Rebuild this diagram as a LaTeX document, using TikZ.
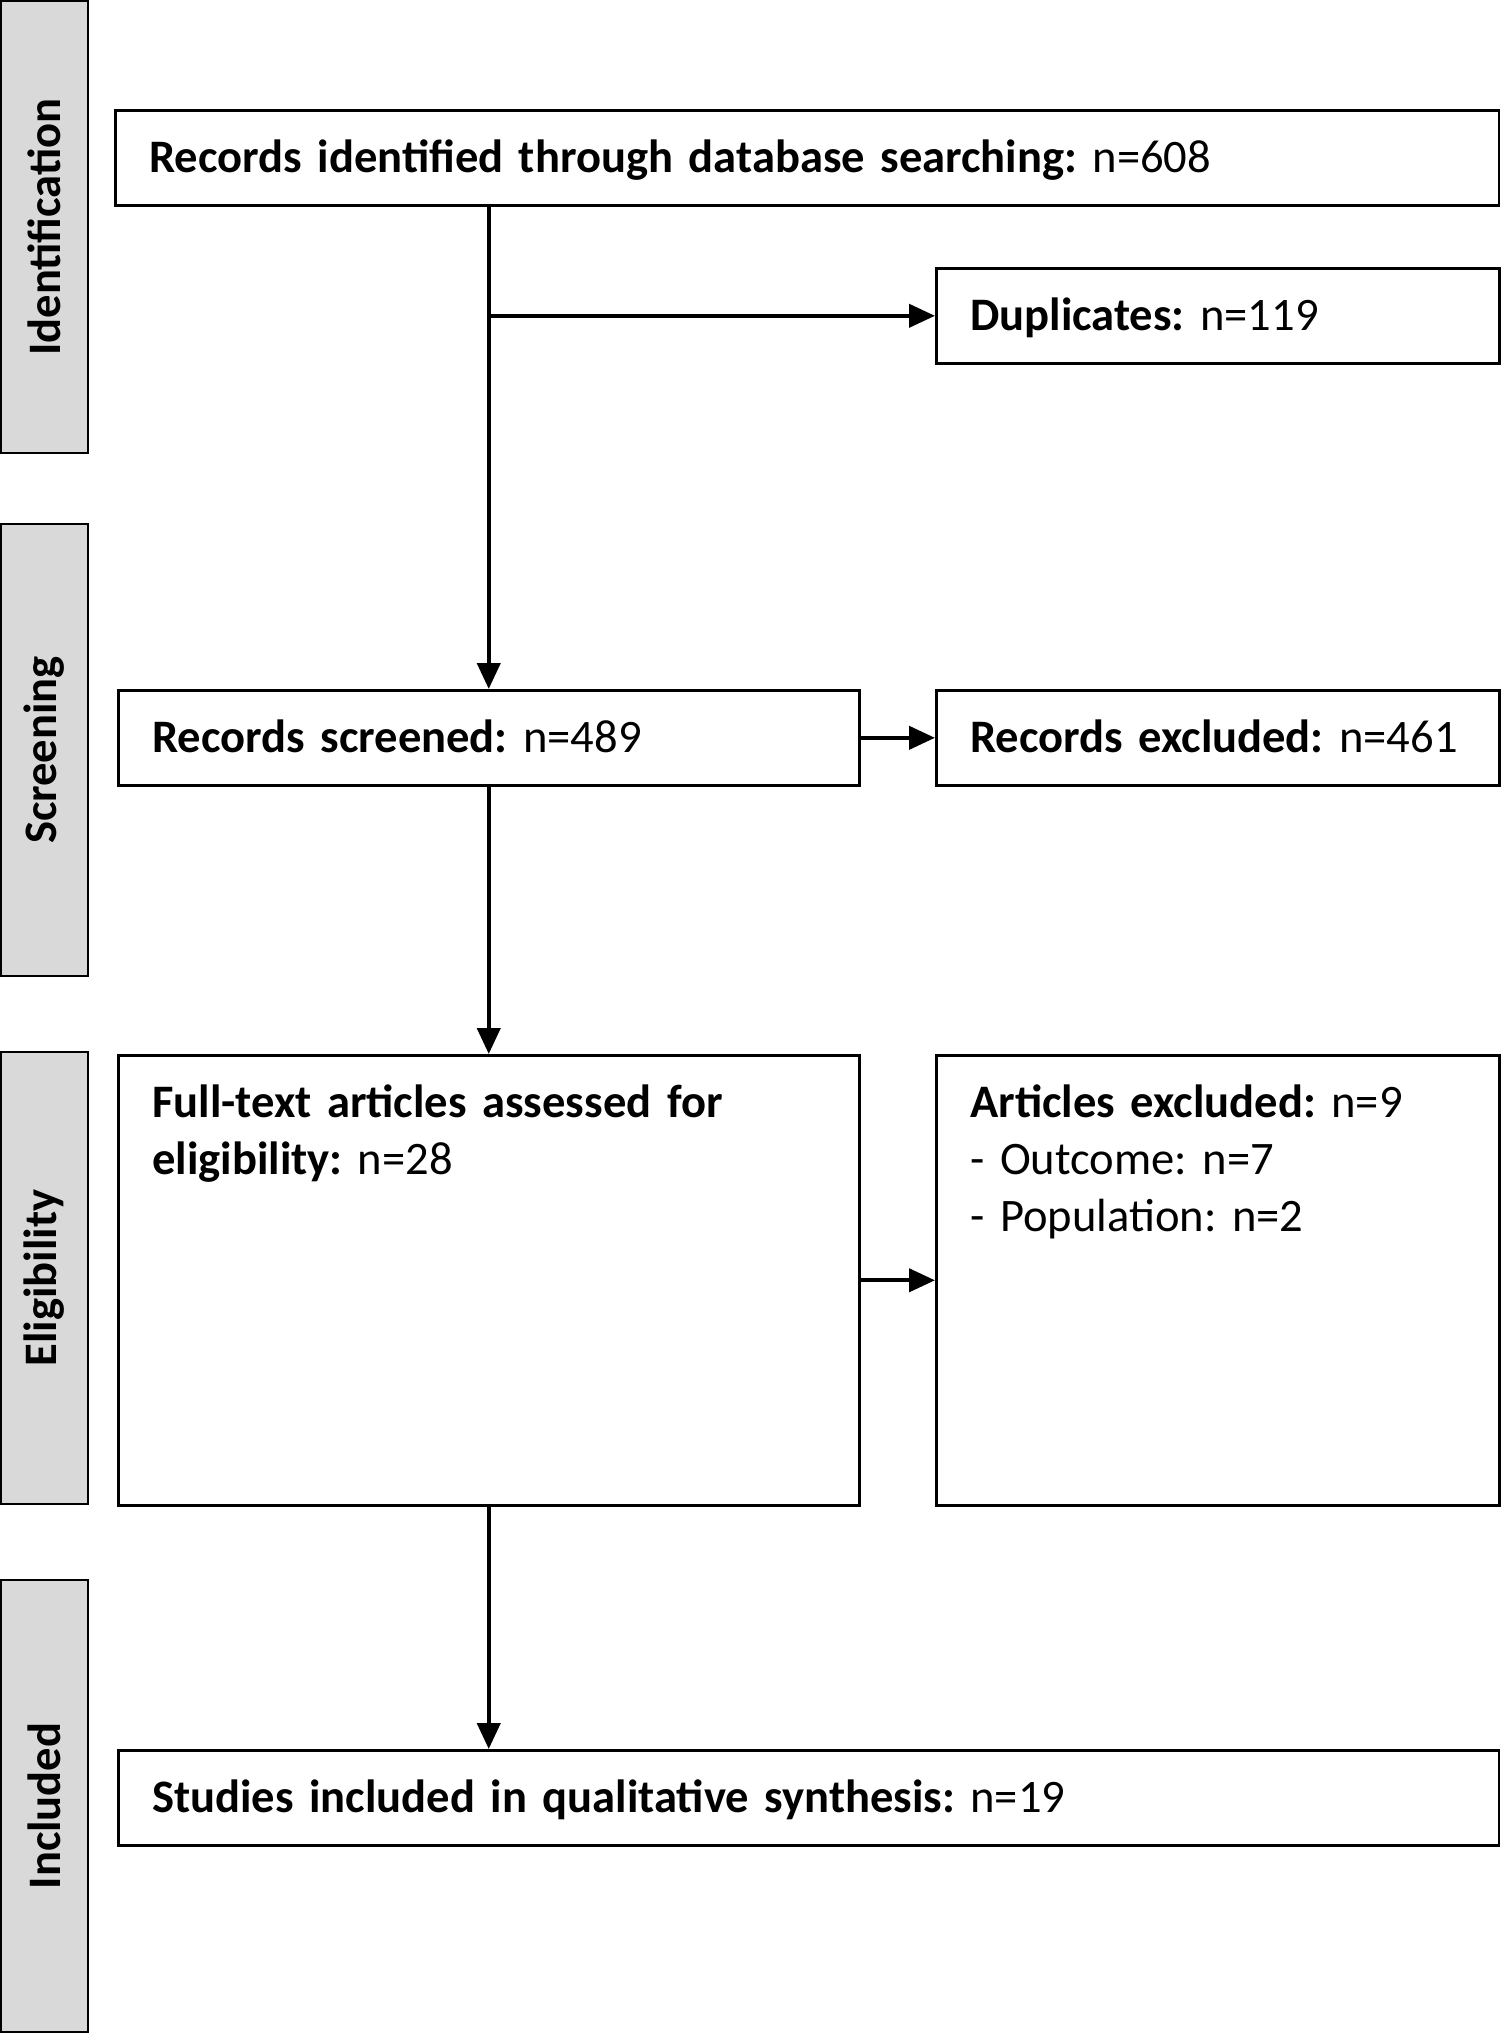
\documentclass[tikz,border=0pt]{standalone}
\usepackage{fontspec}
\setmainfont{Carlito}
\usetikzlibrary{arrows.meta,positioning}
\frenchspacing

\begin{document}
\begin{tikzpicture}[x=0.02cm, y=-0.02cm,
    phase/.style={draw, line width=1.5pt, fill=black!15, rotate=90, minimum width=9.04cm, minimum height=1.74cm, inner sep=0pt, font=\fontsize{26.5}{31.8}\selectfont\bfseries},
    box/.style={draw, line width=1.5pt, anchor=north west, align=left, inner xsep=0.68cm, inner ysep=0pt, text height=1.24cm, text depth=0.66cm, font=\fontsize{26.5}{32.4}\selectfont},
    tall/.style={box, text depth=7.76cm},
    arr/.style={-{Triangle[length=0.52cm, width=0.46cm]}, line width=2.4pt}
]
\useasboundingbox (0,0) rectangle (1503,2034);
% phases
\node[phase] (ident) at (44.5,227) {Identification};
\node[phase] (screen) at (44.5,750) {Screening};
\node[phase] (elig) at (44.5,1278) {Eligibility};
\node[phase] (incl) at (44.5,1806) {Included};
% boxes
\node[box, text width=26.32cm] (records) at (114,109) {\textbf{Records identified through database searching:}~n=608};
\node[box, text width=9.9cm] (dup) at (935,267) {\textbf{Duplicates:}~n=119};
\node[box, text width=13.46cm] (screened) at (117,689) {\textbf{Records screened:}~n=489};
\node[box, text width=9.9cm] (excl) at (935,689) {\textbf{Records excluded:}~n=461};
\node[tall, text width=13.46cm] (full) at (117,1054) {\textbf{Full-text articles assessed for}\\\textbf{eligibility:}~n=28};
\node[tall, text width=9.9cm] (artexcl) at (935,1054) {\textbf{Articles excluded:}~n=9\\- Outcome: n=7\\- Population: n=2};
\node[box, text width=26.26cm] (studies) at (117,1749) {\textbf{Studies included in qualitative synthesis:}~n=19};
% arrows
\draw[arr] (screened.north |- records.south) -- (screened.north);
\draw[arr] (screened.north |- dup.west) -- (dup.west);
\draw[arr] (screened.east) -- (excl.west);
\draw[arr] (screened.south) -- (full.north);
\draw[arr] (full.east) -- (artexcl.west);
\draw[arr] (full.south) -- (full.south |- studies.north);
\end{tikzpicture}
\end{document}
